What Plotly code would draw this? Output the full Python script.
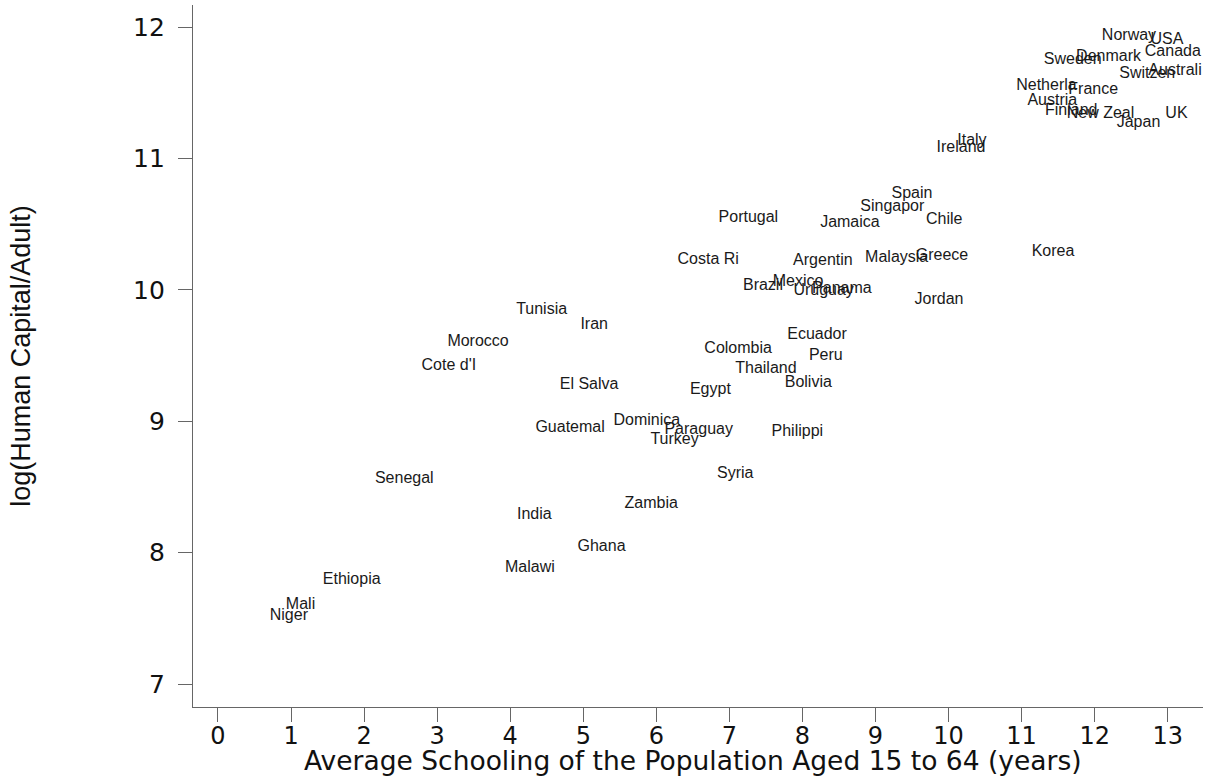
import plotly.graph_objects as go

countries = [
    "Norway", "USA", "Canada", "Sweden", "Denmark", "Australi", "Switzen",
    "Netherla", "France", "Austria", "Finland", "New Zeal", "UK", "Japan",
    "Italy", "Ireland", "Korea", "Spain", "Singapor", "Portugal", "Jamaica",
    "Chile", "Costa Ri", "Argentin", "Malaysia", "Greece", "Brazil", "Mexico",
    "Uruguay", "Panama", "Jordan", "Ecuador", "Colombia", "Peru", "Thailand",
    "Bolivia", "Egypt", "Dominica", "Paraguay", "Turkey", "Philippi",
    "Tunisia", "Iran", "Morocco", "Cote d'I", "El Salva", "Guatemal",
    "Senegal", "India", "Ghana", "Malawi", "Ethiopia", "Mali", "Niger",
    "Syria", "Zambia",
]

schooling = [
    12.47, 12.99, 13.07, 11.70, 12.19, 13.10, 12.72,
    11.34, 11.98, 11.42, 11.68, 12.08, 13.12, 12.60,
    10.32, 10.17, 11.43, 9.50, 9.23, 7.26, 8.65,
    9.94, 6.71, 8.28, 9.29, 9.91, 7.46, 7.94,
    8.29, 8.54, 9.87, 8.20, 7.12, 8.32, 7.50,
    8.08, 6.74, 5.87, 6.58, 6.25, 7.93,
    4.43, 5.15, 3.56, 3.16, 5.08, 4.82,
    2.55, 4.33, 5.25, 4.27, 1.83, 1.13, 0.97,
    7.08, 5.93,
]

log_hc = [
    11.93, 11.90, 11.81, 11.75, 11.77, 11.67, 11.64,
    11.55, 11.52, 11.44, 11.36, 11.34, 11.34, 11.27,
    11.13, 11.08, 10.29, 10.73, 10.63, 10.55, 10.51,
    10.53, 10.23, 10.22, 10.24, 10.26, 10.03, 10.06,
    9.99, 10.01, 9.92, 9.66, 9.55, 9.50, 9.40,
    9.29, 9.24, 9.00, 8.93, 8.86, 8.92,
    9.85, 9.73, 9.60, 9.42, 9.28, 8.95,
    8.56, 8.29, 8.04, 7.88, 7.79, 7.60, 7.52,
    8.60, 8.37,
]

x_ticks = list(range(0, 14))
y_ticks = [7, 8, 9, 10, 11, 12]
x_title = "Average Schooling of the Population Aged 15 to 64 (years)"
y_title = "log(Human Capital/Adult)"

fig = go.Figure()
fig.add_trace(go.Scatter(
    x=schooling, y=log_hc, text=countries,
    mode="text", textposition="middle center",
    textfont=dict(family="Liberation Sans, Arial", size=16, color="#1a1a1a"),
    hoverinfo="text", showlegend=False, cliponaxis=False,
))

axis_common = dict(
    showgrid=False, zeroline=False, showline=True, linecolor="#666666",
    linewidth=1.3, ticks="outside", ticklen=14, tickcolor="#666666",
    tickwidth=1.3, automargin=False,
)

fig.update_layout(
    width=1207, height=783,
    margin=dict(l=193, r=4, t=5, b=76),
    paper_bgcolor="white", plot_bgcolor="white",
    xaxis=dict(
        range=[-0.342, 13.483], tickvals=x_ticks,
        tickfont=dict(family="DejaVu Sans", size=24, color="#111111"),
        ticklabelstandoff=-7,
        **axis_common,
    ),
    yaxis=dict(
        range=[6.825, 12.169], tickvals=y_ticks,
        tickfont=dict(family="DejaVu Sans", size=25, color="#111111"),
        ticklabelstandoff=8,
        title=dict(text=y_title,
                   font=dict(family="Liberation Sans, Arial", size=27, color="#111111"),
                   standoff=94),
        **axis_common,
    ),
    annotations=[dict(
        text=x_title, xref="paper", yref="paper", x=0.4946, y=-0.0755,
        xanchor="center", yanchor="middle", showarrow=False,
        font=dict(family="DejaVu Sans", size=26.5, color="#111111"),
    )],
)

fig.write_html(
    "out.html",
    config={"displayModeBar": False},
    post_script="document.body.style.margin='0px';document.body.style.overflow='hidden';",
)
